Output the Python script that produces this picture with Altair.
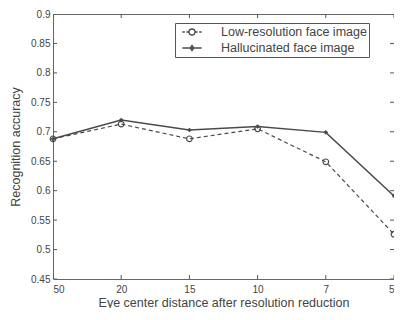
import altair as alt
import pandas as pd

x_labels = ["50", "20", "15", "10", "7", "5"]
series_names = ["Low-resolution face image", "Hallucinated face image"]
low_res = [0.688, 0.713, 0.688, 0.705, 0.649, 0.526]
hallucinated = [0.688, 0.720, 0.703, 0.709, 0.699, 0.591]
y_ticks = [0.45, 0.5, 0.55, 0.6, 0.65, 0.7, 0.75, 0.8, 0.85, 0.9]
y_min, y_max = 0.45, 0.9

rows = []
for i, lab in enumerate(x_labels):
    rows.append({"idx": i, "label": lab, "series": series_names[0], "acc": low_res[i]})
    rows.append({"idx": i, "label": lab, "series": series_names[1], "acc": hallucinated[i]})
df = pd.DataFrame(rows)
n = len(x_labels)
x_tick_df = pd.DataFrame({"idx": list(range(n)), "ybot": [y_min] * n, "ytop": [y_max] * n})
y_tick_df = pd.DataFrame({"acc": y_ticks, "xl": [0] * len(y_ticks), "xr": [n - 1] * len(y_ticks)})

FONT = "Liberation Sans"
TXT = "#444444"
LINE = "#4a4a4a"
TICKC = "#555555"

label_expr = "[" + ",".join("'%s'" % s for s in x_labels) + "][datum.value]"

x_scale = alt.Scale(domain=[0, n - 1], nice=False, zero=False)
y_scale = alt.Scale(domain=[y_min, y_max], nice=False, zero=False)

x_bottom = alt.X("idx:Q", scale=x_scale,
                 axis=alt.Axis(orient="bottom", values=list(range(n)),
                               labelExpr=label_expr, title="Eye center distance after resolution reduction",
                               ticks=False, labelPadding=5, titlePadding=2, domain=False, grid=False))
y_left = alt.Y("acc:Q", scale=y_scale,
               axis=alt.Axis(orient="left", values=y_ticks, format=".2~f", title="Recognition accuracy",
                             ticks=False, labelPadding=3, titlePadding=8, domain=False, grid=False))

base = alt.Chart(df)
low_df = base.transform_filter(alt.datum.series == series_names[0])
hal_df = base.transform_filter(alt.datum.series == series_names[1])

line_low = low_df.mark_line(color=LINE, strokeDash=[4, 3], strokeWidth=1.2).encode(x=x_bottom, y=y_left)
line_hal = hal_df.mark_line(color=LINE, strokeWidth=1.5).encode(
    x=alt.X("idx:Q", axis=None), y=alt.Y("acc:Q", axis=None))

pts_low = low_df.mark_point(shape="circle", filled=False, color=LINE, size=32, strokeWidth=1.2, opacity=1).encode(
    x=alt.X("idx:Q", axis=None), y=alt.Y("acc:Q", axis=None))
pts_hal = hal_df.mark_point(shape="diamond", filled=True, color=LINE, size=22, opacity=1).encode(
    x=alt.X("idx:Q", axis=None), y=alt.Y("acc:Q", axis=None))

# inward box ticks (clipped half ticks on every side)
xt = alt.Chart(x_tick_df)
yt = alt.Chart(y_tick_df)
tick_bottom = xt.mark_tick(orient="vertical", size=8, thickness=1, color=TICKC, clip=True, opacity=1).encode(
    x=alt.X("idx:Q", axis=None), y=alt.Y("ybot:Q", axis=None))
tick_top = xt.mark_tick(orient="vertical", size=8, thickness=1, color=TICKC, clip=True, opacity=1).encode(
    x=alt.X("idx:Q", axis=None), y=alt.Y("ytop:Q", axis=None))
tick_left = yt.mark_tick(orient="horizontal", size=8, thickness=1, color=TICKC, clip=True, opacity=1).encode(
    y=alt.Y("acc:Q", axis=None), x=alt.X("xl:Q", axis=None))
tick_right = yt.mark_tick(orient="horizontal", size=8, thickness=1, color=TICKC, clip=True, opacity=1).encode(
    y=alt.Y("acc:Q", axis=None), x=alt.X("xr:Q", axis=None))

low_path = ("M-1.6,0H-1.2M-0.95,0H-0.5M0.5,0H0.95M1.2,0H1.6"
            "M0.5,0A0.5,0.5 0 1,1 -0.5,0A0.5,0.5 0 1,1 0.5,0Z")
hal_path = "M-1.6,0H1.6M0,-0.45L0.3,0L0,0.45L-0.3,0Z"

legend_layer = base.transform_filter("false").mark_point(filled=False, color=LINE).encode(
    x=alt.X("idx:Q", axis=None),
    y=alt.Y("acc:Q", axis=None),
    shape=alt.Shape("series:N", scale=alt.Scale(domain=series_names, range=[low_path, hal_path]),
                    legend=alt.Legend(title=None, orient="none", legendX=122, legendY=9,
                                      symbolSize=144, symbolOpacity=1, symbolFillColor="transparent",
                                      symbolStrokeColor=LINE, symbolStrokeWidth=1.3, symbolOffset=8,
                                      labelFont=FONT, labelFontSize=12.5, labelColor=TXT,
                                      labelOffset=22, rowPadding=2, padding=2,
                                      strokeColor="#555555", fillColor="white")),
)

chart = alt.layer(line_low, line_hal, pts_low, pts_hal,
                  tick_bottom, tick_top, tick_left, tick_right, legend_layer).resolve_axis(
    x="independent", y="independent"
).properties(
    width=341, height=265,
    autosize=alt.AutoSizeParams(type="none"),
    padding={"left": 45, "top": 6, "right": 0, "bottom": 29},
).configure_view(
    stroke="#666666", strokeWidth=1
).configure_axis(
    labelFont=FONT, labelFontSize=10, labelColor=TXT,
    titleFont=FONT, titleFontSize=12.5, titleColor=TXT, titleFontWeight="normal",
)

chart.save("out.html", embed_options={"renderer": "svg", "actions": False})
